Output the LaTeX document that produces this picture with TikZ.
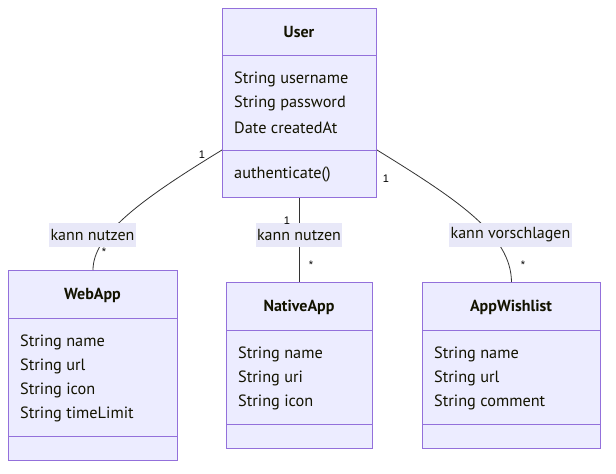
\documentclass[tikz,border=0pt]{standalone}
\usepackage{fontspec}
\setmainfont{PT Sans}
\newfontfamily\multfont{Liberation Sans}
\definecolor{boxfill}{HTML}{ECECFF}
\definecolor{boxline}{HTML}{9370DB}
\definecolor{txt}{HTML}{131300}
\definecolor{edge}{HTML}{333333}
\definecolor{lblfill}{HTML}{E8E8F8}
\begin{document}
\begin{tikzpicture}[x=1pt,y=-1pt,
 cls/.style={draw=boxline, fill=boxfill, line width=1pt, inner sep=0pt, anchor=north west},
 divider/.style={draw=boxline, line width=1pt},
 title/.style={font=\fontsize{16}{19}\selectfont\bfseries, text=txt, inner sep=0pt},
 attr/.style={font=\fontsize{16.3}{19}\selectfont, text=txt, anchor=west, inner sep=0pt, yshift=-1.5pt},
 rel/.style={draw=edge, line width=0.8pt},
 lbl/.style={fill=lblfill, font=\fontsize{16}{19}\selectfont, text=txt, inner xsep=1.5pt, minimum height=24pt},
 mult/.style={font=\multfont\fontsize{11}{13}\selectfont, text=black, inner sep=0pt}
]
\useasboundingbox (0,0) rectangle (616,474);
\fill[white] (0,0) rectangle (616,474);

% User
\node[cls, minimum width=154pt, minimum height=189pt] (user) at (222,8) {};
\draw[divider] (user.west |- 0,55) -- (user.east |- 0,55);
\draw[divider] (user.west |- 0,150) -- (user.east |- 0,150);
\node[title] (usert) at (299,32) {User};
\node[attr] (u1) at (234,78) {String username};
\node[attr] (u2) at (234,102) {String password};
\node[attr] (u3) at (234,126) {Date createdAt};
\node[attr] (u4) at (234,173) {authenticate()};

% WebApp
\node[cls, minimum width=169pt, minimum height=190pt] (web) at (8,270) {};
\draw[divider] (web.west |- 0,318) -- (web.east |- 0,318);
\draw[divider] (web.west |- 0,436) -- (web.east |- 0,436);
\node[title] (webt) at (92.5,295) {WebApp};
\node[attr] (w1) at (20,341) {String name};
\node[attr] (w2) at (20,365) {String url};
\node[attr] (w3) at (20,389) {String icon};
\node[attr] (w4) at (20,413) {String timeLimit};

% NativeApp
\node[cls, minimum width=146pt, minimum height=166pt] (nat) at (226,282) {};
\draw[divider] (nat.west |- 0,330) -- (nat.east |- 0,330);
\draw[divider] (nat.west |- 0,424) -- (nat.east |- 0,424);
\node[title] (natt) at (299,307) {NativeApp};
\node[attr] (n1) at (238,353) {String name};
\node[attr] (n2) at (238,377) {String uri};
\node[attr] (n3) at (238,401) {String icon};

% AppWishlist
\node[cls, minimum width=178pt, minimum height=166pt] (wish) at (422,282) {};
\draw[divider] (wish.west |- 0,330) -- (wish.east |- 0,330);
\draw[divider] (wish.west |- 0,424) -- (wish.east |- 0,424);
\node[title] (wisht) at (511,307) {AppWishlist};
\node[attr] (a1) at (434,353) {String name};
\node[attr] (a2) at (434,377) {String url};
\node[attr] (a3) at (434,401) {String comment};

% relations
\coordinate (uL) at (user.west |- 0,150);
\coordinate (uR) at (user.east |- 0,150);
\draw[rel] (uL) .. controls (140,200) and (93,235) .. (web.north);
\draw[rel] (user.south) -- (nat.north);
\draw[rel] (uR) .. controls (458,200) and (511,235) .. (wish.north);

\node[lbl] (l1) at (92.5,234.5) {kann nutzen};
\node[lbl] (l2) at (299,234.5) {kann nutzen};
\node[lbl] (l3) at (510.5,234.5) {kann vorschlagen};

\node[mult] (m1) at (202,155) {1};
\node[mult] (m2) at (104,252) {*};
\node[mult] (m3) at (287,221) {1};
\node[mult] (m4) at (311,265) {*};
\node[mult] (m5) at (386,179) {1};
\node[mult] (m6) at (523,265) {*};
\end{tikzpicture}
\end{document}
